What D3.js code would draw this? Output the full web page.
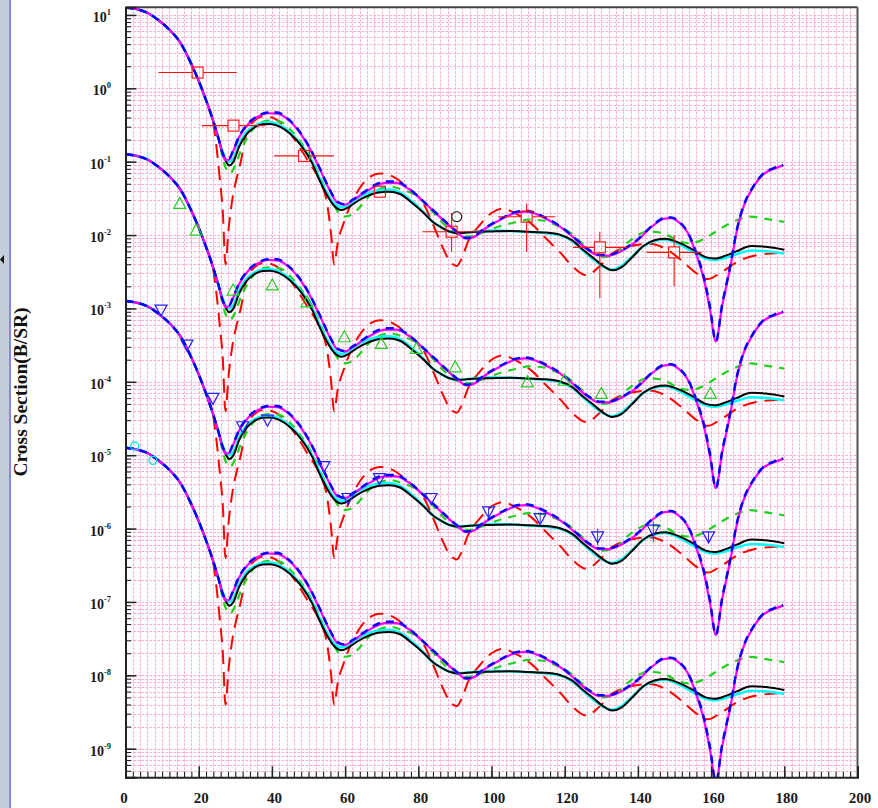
<!DOCTYPE html>
<html>
<head>
<meta charset="utf-8">
<script src="https://cdn.jsdelivr.net/npm/d3@7"></script>
<style>
  body { margin: 0; background: #fff; }
  svg { display: block; }
</style>
</head>
<body>
<svg id="chart" width="878" height="808"></svg>
<script>
// Elastic angular distributions: theta (deg) vs dsigma/dOmega (b/sr).
// Four data sets, each plotted with a scale factor so the sets stack.

const setScale = [1, 1e-2, 1e-4, 1e-6];

// Forward-angle part shared by every calculation
const forward = [
  [0, 12.6], [3, 12.0], [6, 10.7], [9, 8.5], [12, 6.3], [15, 4.17],
  [18, 2.14], [20, 1.26], [22, 0.69], [24, 0.355], [25.5, 0.20]
];

const calcBlack = forward.concat([
  [26.5, 0.132], [27.5, 0.100], [28.3, 0.089], [29.5, 0.100], [31, 0.158],
  [33, 0.234], [35, 0.288], [37.5, 0.324], [39.5, 0.327], [42, 0.302],
  [45, 0.240], [48, 0.166], [51, 0.0955], [53, 0.0562], [55, 0.0355],
  [57, 0.0251], [59, 0.0219], [61, 0.0240], [63, 0.0282], [66, 0.0339],
  [69, 0.0380], [72, 0.0389], [75, 0.0363], [78, 0.0282], [81.5, 0.0200],
  [84, 0.0151], [86, 0.0130], [88.5, 0.0112], [91, 0.0106], [95, 0.0110],
  [100, 0.0112], [105, 0.01135], [110, 0.0111], [115, 0.0108], [118.5, 0.0102],
  [122, 0.00851], [125, 0.00631], [128, 0.00479], [130.5, 0.00380], [133, 0.00331],
  [135.5, 0.00363], [138.5, 0.00501], [141.5, 0.00708], [144.5, 0.00851],
  [147.5, 0.00891], [151, 0.00794], [155, 0.00631], [158.5, 0.00501],
  [161, 0.00479], [164, 0.00525], [167, 0.00603], [171, 0.00708],
  [175, 0.00692], [180, 0.00631]
]);

const calcCyan = forward.concat([
  [26.5, 0.138], [27.5, 0.107], [28.3, 0.100], [29.5, 0.112], [31, 0.174],
  [33, 0.251], [35, 0.302], [37.5, 0.339], [39.5, 0.343], [42, 0.316],
  [45, 0.251], [48, 0.170], [51, 0.100], [53, 0.0603], [55, 0.0380],
  [57, 0.0269], [59, 0.0240], [61, 0.0263], [63, 0.0309], [66, 0.0372],
  [69, 0.0407], [72, 0.0417], [75, 0.0380], [78, 0.0295], [81.5, 0.0204],
  [84, 0.0151], [86, 0.0129], [88.5, 0.0112], [91, 0.0107], [95, 0.0111],
  [100, 0.0115], [105, 0.01135], [110, 0.0110], [115, 0.0106], [118.5, 0.0100],
  [122, 0.00832], [125, 0.00617], [128, 0.00457], [130.5, 0.00372], [133, 0.00339],
  [135.5, 0.00380], [138.5, 0.00513], [141.5, 0.00708], [144.5, 0.00832],
  [147.5, 0.00871], [151, 0.00759], [155, 0.00589], [158.5, 0.00479],
  [161, 0.00457], [164, 0.00490], [167, 0.00550], [171, 0.00617],
  [175, 0.00603], [180, 0.00562]
]);

const calcBlue = forward.concat([
  [26.5, 0.132], [27.3, 0.110], [28.3, 0.110], [29.3, 0.138], [31, 0.219],
  [33.5, 0.331], [36, 0.417], [39, 0.468], [41.5, 0.468], [44, 0.398],
  [47, 0.282], [50, 0.166], [53, 0.0832], [55.5, 0.0447], [58, 0.0282],
  [60, 0.0263], [62, 0.0302], [65, 0.0380], [68, 0.0479], [71, 0.0537],
  [74, 0.0537], [77, 0.0447], [81.5, 0.0285], [86, 0.0178], [90.5, 0.0112],
  [93.2, 0.00912], [95.5, 0.00977], [98, 0.0123], [101, 0.0151], [104, 0.0182],
  [107, 0.0209], [109.5, 0.0214], [112, 0.0200], [115, 0.0170], [118.7, 0.0133],
  [122.3, 0.00955], [126, 0.00661], [129.5, 0.00537], [132, 0.00537], [135, 0.00603],
  [139.7, 0.00851], [144.2, 0.0138], [147, 0.0170], [149, 0.0174], [151.5, 0.0148],
  [153.5, 0.0112], [156, 0.00562], [158, 0.00269], [159.7, 0.00105], [161.3, 3.55e-4],
  [163, 0.00112], [165.2, 0.00372], [167, 0.0117], [168.8, 0.0245], [171.5, 0.0457],
  [174.3, 0.0692], [177, 0.0813], [179.7, 0.0902]
]);

const calcMagenta = forward.concat([
  [26.5, 0.129], [27.3, 0.105], [28.3, 0.107], [29.3, 0.135], [31, 0.214],
  [33.5, 0.324], [36, 0.407], [39, 0.457], [41.5, 0.452], [44, 0.389],
  [47, 0.275], [50, 0.162], [53, 0.0813], [55.5, 0.0437], [58, 0.0275],
  [60, 0.0260], [62, 0.0295], [65, 0.0372], [68, 0.0457], [71, 0.0513],
  [74, 0.0513], [77, 0.0437], [81.5, 0.0282], [86, 0.0174], [90.5, 0.0110],
  [93.2, 0.00891], [95.5, 0.00955], [98, 0.0120], [101, 0.0148], [104, 0.0178],
  [107, 0.0204], [109.5, 0.0209], [112, 0.0195], [115, 0.0166], [118.7, 0.0130],
  [122.3, 0.00933], [126, 0.00646], [129.5, 0.00525], [132, 0.00525], [135, 0.00589],
  [139.7, 0.00832], [144.2, 0.0135], [147, 0.0166], [149, 0.0170], [151.5, 0.0145],
  [153.5, 0.0110], [156, 0.00537], [158, 0.00251], [159.7, 9.55e-4], [161.3, 3.55e-4],
  [163, 0.00107], [165.2, 0.00355], [167, 0.0112], [168.8, 0.0240], [171.5, 0.0447],
  [174.3, 0.0676], [177, 0.0794], [179.7, 0.0891]
]);

const calcGreen = forward.concat([
  [26.5, 0.117], [27.5, 0.0794], [28.5, 0.0692], [30, 0.0891], [31.5, 0.141],
  [33.5, 0.224], [36, 0.316], [39, 0.363], [42, 0.355], [45, 0.275],
  [48, 0.182], [51, 0.105], [54, 0.0501], [57, 0.0251], [59.5, 0.0178],
  [62, 0.0191], [64, 0.0240], [67, 0.0355], [70, 0.0437], [72.5, 0.0457],
  [75.5, 0.0417], [79.6, 0.0339], [83, 0.0234], [86, 0.0158], [90, 0.0107],
  [94, 0.00955], [97, 0.0105], [100, 0.0120], [103, 0.0135], [107, 0.0151],
  [110, 0.0162], [114, 0.0158], [117, 0.0141], [120.5, 0.0117], [124.2, 0.00813],
  [127, 0.00603], [130.5, 0.00501], [133.5, 0.00537], [137, 0.00776], [140, 0.0100],
  [142.5, 0.0112], [145, 0.0110], [148, 0.0100], [151, 0.00832], [154.2, 0.00776],
  [157.9, 0.00871], [160.6, 0.0106], [163, 0.0126], [165.2, 0.0145], [168, 0.0166],
  [170.6, 0.0178], [175, 0.0166], [180, 0.0151]
]);

const calcRed = forward.slice(0, 9).concat([
  [24, 0.331], [25.8, 0.0562], [26.6, 0.0200], [27.3, 0.00398], [28.2, 0.0126],
  [29.3, 0.0331], [30.5, 0.0631], [31.5, 0.100], [33, 0.240], [35, 0.355],
  [38, 0.417], [41, 0.380], [44, 0.282], [47, 0.174], [50, 0.100],
  [53, 0.0562], [55, 0.0282], [56.2, 0.0100], [57, 0.00398], [58, 0.00794],
  [59.5, 0.0141], [61, 0.0224], [64, 0.0437], [67, 0.0631], [69.5, 0.0692],
  [72.5, 0.0646], [77, 0.0447], [81.5, 0.0263], [84, 0.0141], [86.5, 0.00708],
  [88.5, 0.00447], [90.5, 0.00380], [92, 0.00501], [93.5, 0.00794], [97, 0.0141],
  [100, 0.0200], [103, 0.0229], [107, 0.0191], [111, 0.0141], [115, 0.00891],
  [119, 0.00562], [122, 0.00380], [126, 0.00282], [129, 0.00355], [133, 0.00562],
  [138, 0.00708], [143, 0.00759], [148, 0.00631], [152, 0.00447], [156, 0.00302],
  [159, 0.00251], [163, 0.00316], [167, 0.00427], [172, 0.00525], [180, 0.00575]
]);

// Measured points, already multiplied by the set's scale factor
// set 1: [theta, sigma, thetaLo, thetaHi, sigmaLo, sigmaHi]
const set1Points = [
  [19.7, 1.64, 9.0, 30.4, null, null],
  [29.5, 0.31, 20.9, 38.1, null, null],
  [48.8, 0.12, 40.6, 57.0, null, null],
  [69.5, 0.039, null, null, 0.033, 0.046],
  [89.1, 0.0111, 81.1, 97.1, 0.0059, 0.020],
  [109.6, 0.0178, 101.8, 117.4, 0.0059, 0.0269],
  [129.6, 0.0068, 122.3, 137.0, 0.00138, 0.0111],
  [149.9, 0.0058, 142.4, 157.4, 0.0020, 0.0100]
];
const set1Extra = [[90.5, 0.0178]];

const set2Points = [
  [14.8, 0.0270], [19.3, 0.0117], [29.4, 0.00178], [40.1, 0.00209],
  [49.6, 0.00123], [59.8, 4.11e-4], [69.9, 3.34e-4], [79.5, 2.85e-4],
  [90.1, 1.6e-4], [109.8, 1.0e-4], [119.9, 1.05e-4], [130, 6.95e-5],
  [159.8, 6.95e-5]
];

// set 3: [theta, sigma, sigmaLo, sigmaHi]
const set3Points = [
  [9.7, 9.5e-4, null, null], [16.8, 3.16e-4, null, null],
  [23.9, 5.94e-5, null, null], [32, 2.44e-5, null, null],
  [38.8, 3.0e-5, null, null], [54.2, 7.0e-6, null, null],
  [60.8, 2.57e-6, null, null], [69.4, 4.8e-6, null, null],
  [83.5, 2.57e-6, null, null], [99.2, 1.69e-6, 1.45e-6, 1.95e-6],
  [113.3, 1.37e-6, 1.15e-6, 1.65e-6], [129, 7.7e-7, 5.9e-7, 1.0e-6],
  [144.2, 9.5e-7, 6.5e-7, 1.25e-6], [159.3, 7.7e-7, 6.5e-7, 9.0e-7]
];

const set4Points = [[2.5, 1.33e-5], [7.5, 8.5e-6]];

const xTicksMajor = [0, 20, 40, 60, 80, 100, 120, 140, 160, 180, 200];
const yDecades = [-9, -8, -7, -6, -5, -4, -3, -2, -1, 0, 1];

const curves = [
  { data: calcRed,     color: "#ff0000", width: 2,   dash: "14,8" },
  { data: calcGreen,   color: "#1fd11f", width: 2.2, dash: "8,7" },
  { data: calcCyan,    color: "#00ffff", width: 2.6, dash: null },
  { data: calcBlack,   color: "#000000", width: 2,   dash: null },
  { data: calcMagenta, color: "#ff00ff", width: 2.2, dash: null },
  { data: calcBlue,    color: "#0000ff", width: 2.4, dash: "8,6" }
];

// ---------------------------------------------------------------
const svg = d3.select("#chart");
const W = 878, H = 808;
const pL = 125.5, pR = 857.5, pT = 7.3, pB = 777.3;

const x = d3.scaleLinear().domain([0, 200]).range([pL, pR]);
const y = d3.scaleLog().domain([Math.pow(10, -9.39), Math.pow(10, 1.104)]).range([pB, pT]);

// window edge on the left
svg.append("rect").attr("x", 0).attr("y", 0).attr("width", 9).attr("height", H).attr("fill", "#c5cdd9");
svg.append("rect").attr("x", 9).attr("y", 0).attr("width", 2).attr("height", H).attr("fill", "#8585ff");
svg.append("path").attr("d", "M4,255 L0,259.5 L4,264 Z").attr("fill", "#111");

// tick positions
const xMinor = d3.range(0, 201, 2);
const yMinor = [];
yDecades.concat([-10]).forEach(e => {
  for (let m = 1; m <= 9; m++) {
    const v = m * Math.pow(10, e);
    if (v >= y.domain()[0] && v <= y.domain()[1]) yMinor.push(v);
  }
});
const yMajor = yDecades.map(e => Math.pow(10, e));

// grid
const grid = svg.append("g").attr("stroke", "#ff94c8").attr("stroke-width", 1)
  .attr("stroke-dasharray", "2.5,1.5").attr("opacity", 0.8);
grid.selectAll("line.v").data(xMinor.filter(v => v > 0 && v < 200)).join("line")
  .attr("class", "v")
  .attr("x1", d => Math.round(x(d)) + 0.5).attr("x2", d => Math.round(x(d)) + 0.5)
  .attr("y1", pT).attr("y2", pB);
grid.selectAll("line.h").data(yMinor).join("line")
  .attr("class", "h")
  .attr("x1", pL).attr("x2", pR)
  .attr("y1", d => Math.round(y(d)) + 0.5).attr("y2", d => Math.round(y(d)) + 0.5);

// curves
svg.append("clipPath").attr("id", "plotClip").append("rect")
  .attr("x", pL).attr("y", pT).attr("width", pR - pL).attr("height", pB - pT);
const curveLayer = svg.append("g").attr("clip-path", "url(#plotClip)");
const line = d3.line().x(d => x(d[0])).y(d => y(d[1])).curve(d3.curveMonotoneX);

setScale.forEach(s => {
  curves.forEach(c => {
    curveLayer.append("path")
      .datum(c.data.map(p => [p[0], p[1] * s]))
      .attr("d", line)
      .attr("fill", "none")
      .attr("stroke", c.color)
      .attr("stroke-width", c.width)
      .attr("stroke-dasharray", c.dash)
      .attr("stroke-linejoin", "round");
  });
});

// measured points
const pts = svg.append("g").attr("clip-path", "url(#plotClip)");
const half = 5.5;

// set 1: open squares with error bars
set1Points.forEach(p => {
  const cx = x(p[0]), cy = y(p[1]);
  const g = pts.append("g").attr("stroke", "#ff1010").attr("stroke-width", 1.1).attr("fill", "none");
  if (p[2] !== null) {
    g.append("line").attr("x1", x(p[2])).attr("x2", cx - half).attr("y1", cy).attr("y2", cy);
    g.append("line").attr("x1", cx + half).attr("x2", x(p[3])).attr("y1", cy).attr("y2", cy);
  }
  if (p[4] !== null) {
    g.append("line").attr("x1", cx).attr("x2", cx).attr("y1", y(p[4])).attr("y2", cy + half);
    g.append("line").attr("x1", cx).attr("x2", cx).attr("y1", cy - half).attr("y2", y(p[5]));
  }
  g.append("rect").attr("x", cx - half).attr("y", cy - half).attr("width", 2 * half).attr("height", 2 * half);
});
set1Extra.forEach(p => {
  pts.append("circle").attr("cx", x(p[0])).attr("cy", y(p[1])).attr("r", 5)
    .attr("fill", "none").attr("stroke", "#333").attr("stroke-width", 1.2);
});

// set 2: open triangles
const triUp = (cx, cy) => `M${cx},${cy - 6} L${cx + 6},${cy + 5} L${cx - 6},${cy + 5} Z`;
const triDown = (cx, cy) => `M${cx},${cy + 6} L${cx + 6},${cy - 5} L${cx - 6},${cy - 5} Z`;
set2Points.forEach(p => {
  pts.append("path").attr("d", triUp(x(p[0]), y(p[1])))
    .attr("fill", "none").attr("stroke", "#22cc22").attr("stroke-width", 1.2);
});

// set 3: open inverted triangles with error bars
set3Points.forEach(p => {
  const cx = x(p[0]), cy = y(p[1]);
  if (p[2] !== null) {
    pts.append("line").attr("x1", cx).attr("x2", cx).attr("y1", y(p[2])).attr("y2", y(p[3]))
      .attr("stroke", "#3030ff").attr("stroke-width", 1);
  }
  pts.append("path").attr("d", triDown(cx, cy))
    .attr("fill", "none").attr("stroke", "#2020ff").attr("stroke-width", 1.2);
});

// set 4: open circles
set4Points.forEach(p => {
  pts.append("circle").attr("cx", x(p[0])).attr("cy", y(p[1])).attr("r", 4)
    .attr("fill", "none").attr("stroke", "#00e5e5").attr("stroke-width", 1.3);
});

// frame
const frame = svg.append("g").attr("fill", "none");
frame.append("line").attr("x1", pL).attr("x2", pR).attr("y1", pT).attr("y2", pT).attr("stroke", "#444").attr("stroke-width", 2);
frame.append("line").attr("x1", pR).attr("x2", pR).attr("y1", pT).attr("y2", pB).attr("stroke", "#555").attr("stroke-width", 2);

// axes
const fontFam = "'Liberation Serif', 'DejaVu Serif', serif";

const xMinorAxis = d3.axisBottom(x).tickValues(xMinor).tickSize(-5.5).tickFormat("");
const xMajorAxis = d3.axisBottom(x).tickValues(xTicksMajor).tickSize(-11).tickPadding(15).tickFormat(d3.format("d"));
svg.append("g").attr("transform", `translate(0,${pB})`).call(xMinorAxis)
  .call(g => g.select(".domain").remove())
  .selectAll("line").attr("stroke", "#222").attr("stroke-width", 1.1);
const gx = svg.append("g").attr("transform", `translate(0,${pB})`).call(xMajorAxis);
gx.select(".domain").attr("stroke", "#222").attr("stroke-width", 2);
gx.selectAll("line").attr("stroke", "#222").attr("stroke-width", 1.5);
gx.selectAll("text")
  .attr("font-family", fontFam).attr("font-weight", "bold").attr("font-size", 15).attr("fill", "#1a1a1a")
  .attr("dx", d => d === 0 ? -2 : 2);

const yMinorAxis = d3.axisLeft(y).tickValues(yMinor).tickSize(-5.5).tickFormat("");
const yMajorAxis = d3.axisLeft(y).tickValues(yMajor).tickSize(-11).tickFormat("");
svg.append("g").attr("transform", `translate(${pL},0)`).call(yMinorAxis)
  .call(g => g.select(".domain").remove())
  .selectAll("line").attr("stroke", "#222").attr("stroke-width", 1.1);
const gy = svg.append("g").attr("transform", `translate(${pL},0)`).call(yMajorAxis);
gy.select(".domain").attr("stroke", "#222").attr("stroke-width", 2);
gy.selectAll("line").attr("stroke", "#222").attr("stroke-width", 1.5);

// decade labels written as 10 with a raised exponent
const yLab = svg.append("g").attr("font-family", fontFam).attr("font-weight", "bold").attr("fill", "#1a1a1a");
yDecades.forEach(e => {
  const t = yLab.append("text").attr("x", 111).attr("y", y(Math.pow(10, e)) + 7).attr("text-anchor", "end");
  t.append("tspan").attr("font-size", 14).text("10");
  t.append("tspan").attr("font-size", 8.5).attr("dy", -7).text(String(e));
});

// axis title
svg.append("text")
  .attr("transform", "translate(27,392) rotate(-90)")
  .attr("text-anchor", "middle")
  .attr("font-family", fontFam).attr("font-weight", "bold").attr("font-size", 19.5).attr("fill", "#111")
  .text("Cross Section(B/SR)");
</script>
</body>
</html>
